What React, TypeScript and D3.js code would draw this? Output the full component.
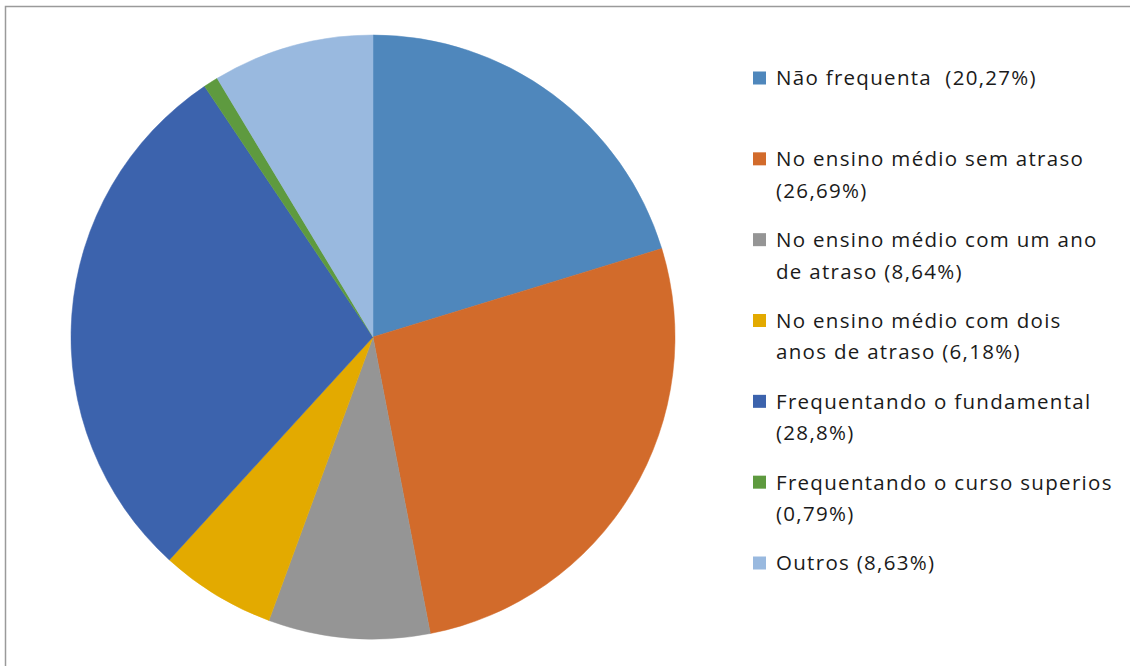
import React from "react";
import * as d3 from "d3";

const categories = [
  "Não frequenta",
  "No ensino médio sem atraso",
  "No ensino médio com um ano de atraso",
  "No ensino médio com dois anos de atraso",
  "Frequentando o fundamental",
  "Frequentando o curso superios",
  "Outros",
];
const values = [20.27, 26.69, 8.64, 6.18, 28.8, 0.79, 8.63];
const legendLines = [
  ["Não frequenta  (20,27%)"],
  ["No ensino médio sem atraso", "(26,69%)"],
  ["No ensino médio com um ano", "de atraso (8,64%)"],
  ["No ensino médio com dois", "anos de atraso (6,18%)"],
  ["Frequentando o fundamental", "(28,8%)"],
  ["Frequentando o curso superios", "(0,79%)"],
  ["Outros (8,63%)"],
];
const colors = ["#4F87BC", "#D26B2B", "#959595", "#E3AA00", "#3C63AD", "#5E9A3F", "#99B9DF"];

export default function App() {
  const W = 1130, H = 666;
  const cx = 373, cy = 337, r = 302;
  const pie = d3.pie<number>().sort(null).value((d) => d);
  const arcs = pie(values);
  const arc = d3.arc<d3.PieArcDatum<number>>().innerRadius(0).outerRadius(r);
  const color = d3.scaleOrdinal<string, string>().domain(categories).range(colors);
  const legendY = d3.scaleLinear().domain([0, 6]).range([78, 563]);
  const font = "'Open Sans', Lato, sans-serif";
  return (
    <svg width={W} height={H} style={{ position: "absolute", left: 0, top: 0 }}>
      <rect x={0} y={0} width={W} height={H} fill="#fff" />
      <rect x={5.5} y={6.5} width={W + 20} height={H + 20} fill="none" stroke="#9a9a9a" strokeWidth={1.5} />
      <g transform={`translate(${cx},${cy})`}>
        {arcs.map((a, i) => (
          <path key={i} d={arc(a) || ""} fill={color(categories[i])} stroke={color(categories[i])} strokeWidth={0.5} />
        ))}
      </g>
      {categories.map((c, i) => {
        const y0 = legendY(i);
        return (
          <g key={c}>
            <rect x={753} y={y0 - 6.5} width={13} height={13} fill={color(c)} />
            {legendLines[i].map((ln, j) => (
              <text key={j} x={776} y={y0 + j * 31.5} dy="0.36em" fontFamily={font} fontSize={20.5} letterSpacing={1.3} fill="#1a1a1a" style={{ whiteSpace: "pre" }}>
                {ln}
              </text>
            ))}
          </g>
        );
      })}
    </svg>
  );
}
